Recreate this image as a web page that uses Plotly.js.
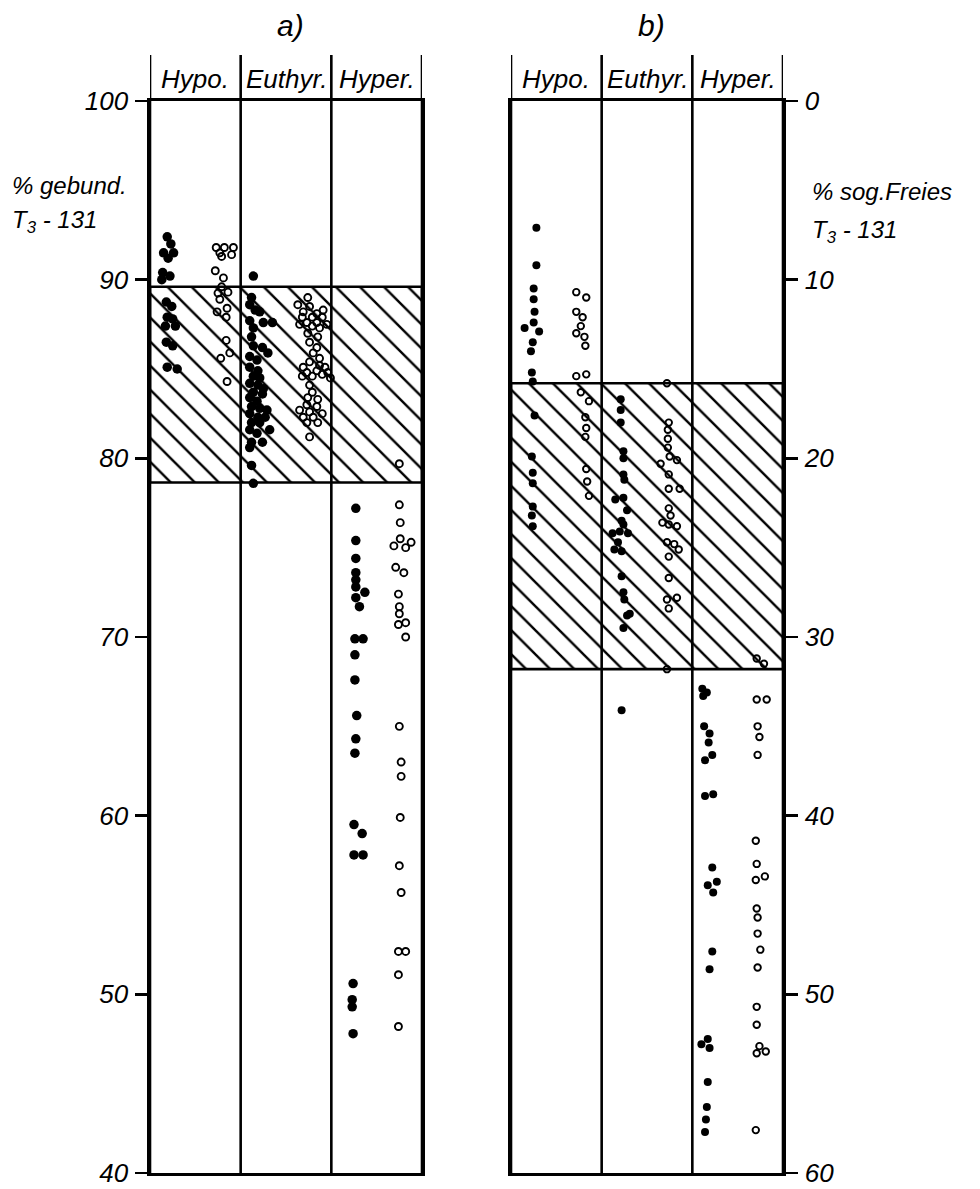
<!DOCTYPE html>
<html>
<head>
<meta charset="utf-8">
<script src="https://cdn.plot.ly/plotly-3.0.1.min.js"></script>
<style>html,body{margin:0;padding:0;background:#fff;}#chart{width:980px;height:1189px;}</style>
</head>
<body>
<div id="chart"></div>
<script>
// ---------------- DATA ----------------
const categories = ['Hypo.', 'Euthyr.', 'Hyper.'];
const tickValsA = [40, 50, 60, 70, 80, 90, 100];
const tickValsB = [0, 10, 20, 30, 40, 50, 60];
const normalBandA = [78.65, 89.6];   // % gebund. T3-131 (hatched normal range)
const normalBandB = [15.8, 31.8];    // % sog. Freies T3-131 (hatched normal range)

// Panel a) – % gebund. T3-131 ; x = position within columns (0..3)
const aHypoFilledX = [0.19,0.23,0.15,0.26,0.20,0.14,0.22,0.13,0.18,0.24,0.19,0.25,0.17,0.28,0.18,0.25,0.19,0.30];
const aHypoFilledY = [92.4,92.0,91.5,91.5,91.2,90.4,90.2,90.0,88.75,88.5,87.9,87.8,87.4,87.4,86.5,86.3,85.1,85.0];
const aHypoOpenX = [0.73,0.82,0.92,0.77,0.90,0.79,0.72,0.81,0.79,0.75,0.86,0.77,0.85,0.74,0.84,0.84,0.88,0.78,0.85];
const aHypoOpenY = [91.8,91.8,91.8,91.5,91.4,91.3,90.5,90.1,89.6,89.25,89.3,88.9,88.4,88.2,87.9,86.6,85.9,85.6,84.3];

const aEuFilledX = [1.14,1.12,1.10,1.16,1.21,1.10,1.25,1.35,1.14,1.12,1.14,1.24,1.30,1.10,1.18,1.10,1.19,1.14,1.21,1.10,1.19,1.25,1.14,1.24,1.10,1.18,1.12,1.21,1.29,1.10,1.19,1.27,1.12,1.21,1.32,1.10,1.18,1.12,1.24,1.10,1.12,1.14];
const aEuFilledY = [90.2,89.0,88.6,88.3,88.2,87.7,87.6,87.6,87.3,86.8,86.3,86.2,85.9,85.7,85.5,85.1,84.9,84.6,84.5,84.2,84.1,83.9,83.7,83.6,83.4,83.2,82.9,82.8,82.7,82.5,82.3,82.3,82.0,82.0,81.6,81.6,81.4,80.9,80.9,80.6,79.6,78.6];
const aEuOpenX = [1.74,1.63,1.76,1.69,1.84,1.91,1.68,1.79,1.90,1.73,1.84,1.95,1.65,1.79,1.87,1.74,1.85,1.76,1.84,1.80,1.87,1.76,1.87,1.69,1.84,1.93,1.73,1.96,1.68,1.79,1.90,1.99,1.76,1.79,1.74,1.85,1.73,1.84,1.65,1.76,1.90,1.69,1.80,1.73,1.85,1.76];
const aEuOpenY = [89.0,88.6,88.5,88.2,88.1,88.3,87.9,87.9,87.9,87.6,87.6,87.5,87.5,87.4,87.3,87.0,86.8,86.5,86.2,85.9,85.6,85.4,85.2,85.1,84.9,85.1,84.8,84.8,84.6,84.6,84.7,84.5,84.1,83.7,83.4,83.3,83.0,82.9,82.7,82.6,82.5,82.3,82.3,82.0,82.0,81.2];

const aHyperFilledX = [2.27,2.27,2.27,2.27,2.27,2.27,2.37,2.27,2.31,2.26,2.35,2.26,2.26,2.28,2.27,2.26,2.25,2.34,2.25,2.35,2.24,2.23,2.23,2.24];
const aHyperFilledY = [77.2,75.4,74.4,73.6,73.2,72.8,72.5,72.2,71.7,69.9,69.9,69.0,67.6,65.6,64.3,63.5,59.5,59.0,57.8,57.8,50.6,49.7,49.3,47.8];
const aHyperOpenX = [2.75,2.75,2.76,2.76,2.88,2.69,2.82,2.71,2.80,2.74,2.75,2.75,2.82,2.74,2.82,2.75,2.77,2.77,2.76,2.75,2.77,2.74,2.82,2.74,2.74];
const aHyperOpenY = [79.7,77.4,76.4,75.5,75.3,75.1,75.0,73.9,73.6,72.4,71.7,71.3,70.8,70.7,70.0,65.0,63.0,62.2,59.9,57.2,55.7,52.4,52.4,51.1,48.2];

// Panel b) – % sog. Freies T3-131
const bHypoFilledX = [0.28,0.28,0.25,0.25,0.26,0.25,0.15,0.31,0.24,0.22,0.23,0.24,0.26,0.23,0.24,0.24,0.24,0.23,0.24];
const bHypoFilledY = [7.1,9.2,10.5,11.1,11.8,12.4,12.7,12.9,13.5,14.0,15.2,15.7,17.6,19.9,20.8,21.4,22.7,23.2,23.8];
const bHypoOpenX = [0.72,0.83,0.72,0.79,0.77,0.72,0.81,0.82,0.72,0.83,0.77,0.86,0.82,0.83,0.82,0.83,0.84,0.86];
const bHypoOpenY = [10.7,11.0,11.8,12.1,12.6,13.0,13.2,13.7,15.4,15.3,16.3,16.8,17.7,18.3,18.8,20.6,21.3,22.1];

const bEuFilledX = [1.21,1.21,1.21,1.24,1.24,1.24,1.25,1.15,1.24,1.28,1.22,1.24,1.12,1.20,1.29,1.18,1.14,1.22,1.22,1.24,1.25,1.28,1.31,1.24,1.22];
const bEuFilledY = [16.7,17.3,18.0,19.6,20.0,20.9,21.2,22.3,22.2,22.9,23.5,23.7,24.2,24.1,24.2,24.7,25.1,25.2,26.6,27.5,27.9,28.8,28.7,29.5,34.1];
const bEuOpenX = [1.72,1.74,1.73,1.73,1.73,1.75,1.65,1.83,1.74,1.74,1.86,1.74,1.76,1.67,1.74,1.83,1.72,1.80,1.85,1.74,1.74,1.72,1.83,1.74,1.72];
const bEuOpenY = [15.8,18.0,18.4,18.9,19.4,19.9,20.3,20.1,20.9,21.7,21.7,22.8,23.2,23.6,23.7,23.8,24.7,24.8,25.1,25.5,26.7,27.9,27.8,28.4,31.8];

const bHyperFilledX = [2.11,2.16,2.12,2.13,2.19,2.18,2.22,2.14,2.14,2.23,2.22,2.17,2.27,2.23,2.22,2.19,2.10,2.17,2.19,2.17,2.16,2.15,2.14];
const bHyperFilledY = [32.9,33.1,33.3,35.0,35.4,35.9,36.6,36.9,38.9,38.8,42.9,43.9,43.7,44.3,47.6,48.6,52.8,52.5,53.0,54.9,56.3,57.0,57.7];
const bHyperOpenX = [2.71,2.79,2.71,2.82,2.72,2.74,2.72,2.70,2.71,2.70,2.80,2.71,2.72,2.72,2.75,2.72,2.71,2.71,2.74,2.81,2.71,2.70];
const bHyperOpenY = [31.2,31.5,33.5,33.5,35.0,35.6,36.6,41.4,42.7,43.6,43.4,45.2,45.7,46.6,47.5,48.5,50.7,51.7,52.9,53.2,53.3,57.6];

// ---------------- STYLE / LAYOUT ----------------
const W = 980, H = 1189;
const FONT = "'Liberation Sans', Arial, sans-serif";
const LW = 2.6;
const fx = p => p / W;
const fy = p => 1 - p / H;

const plotTop = 101, plotBottom = 1173, headTop = 55;
const aLeft = 150, aRight = 422, bLeft = 511, bRight = 783;

function dots(x, y, xa, ya, open, size) {
  return {
    type: 'scatter', mode: 'markers', x: x, y: y, xaxis: xa, yaxis: ya,
    hoverinfo: 'skip', showlegend: false, cliponaxis: false,
    marker: open
      ? {symbol: 'circle-open', size: size, color: '#000', line: {width: 1.9, color: '#000'}}
      : {symbol: 'circle', size: size, color: '#000', line: {width: 0}}
  };
}
function band(rng, xa, ya) {
  return {
    type: 'scatter', mode: 'lines', xaxis: xa, yaxis: ya, hoverinfo: 'skip', showlegend: false,
    x: [0, 3, 3, 0, 0], y: [rng[0], rng[0], rng[1], rng[1], rng[0]],
    fill: 'toself', fillcolor: 'rgba(255,255,255,0)',
    fillpattern: {shape: '\\', size: 17, solidity: 0.14, fgcolor: '#000', bgcolor: '#fff'},
    line: {color: '#000', width: LW}
  };
}

const traces = [
  band(normalBandA, 'x', 'y'),
  band(normalBandB, 'x2', 'y2'),
  dots(aHypoFilledX, aHypoFilledY, 'x', 'y', false, 9.5),
  dots(aHypoOpenX, aHypoOpenY, 'x', 'y', true, 7),
  dots(aEuFilledX, aEuFilledY, 'x', 'y', false, 9.5),
  dots(aEuOpenX, aEuOpenY, 'x', 'y', true, 7),
  dots(aHyperFilledX, aHyperFilledY, 'x', 'y', false, 9.5),
  dots(aHyperOpenX, aHyperOpenY, 'x', 'y', true, 7),
  dots(bHypoFilledX, bHypoFilledY, 'x2', 'y2', false, 8),
  dots(bHypoOpenX, bHypoOpenY, 'x2', 'y2', true, 6.5),
  dots(bEuFilledX, bEuFilledY, 'x2', 'y2', false, 8),
  dots(bEuOpenX, bEuOpenY, 'x2', 'y2', true, 6.5),
  dots(bHyperFilledX, bHyperFilledY, 'x2', 'y2', false, 8),
  dots(bHyperOpenX, bHyperOpenY, 'x2', 'y2', true, 6.5)
];

const yDom = [fy(plotBottom), fy(plotTop)];
const tickFont = {family: FONT, size: 26, color: '#000', style: 'italic'};
const xBase = {range: [0, 3], showticklabels: false, ticks: '', showgrid: false, zeroline: false,
  showline: true, mirror: true, linewidth: LW, linecolor: '#000', fixedrange: true};
const yBase = {showgrid: false, zeroline: false, showline: true, mirror: true, linewidth: LW,
  linecolor: '#000', ticks: 'outside', ticklen: 12, tickwidth: LW, tickcolor: '#000',
  tickfont: tickFont, ticklabelstandoff: 2, fixedrange: true};

const shapes = [];
['x', 'x2'].forEach(xa => {
  [0, 1, 2, 3].forEach(v => shapes.push({type: 'line', xref: xa, yref: 'paper', x0: v, x1: v,
    y0: fy(plotBottom), y1: fy(headTop), line: {color: '#000', width: LW}}));
});

const annotations = [];
const headFont = {family: FONT, size: 26, color: '#000', style: 'italic'};
['x', 'x2'].forEach(xa => {
  categories.forEach((c, i) => annotations.push({xref: xa, yref: 'paper', x: i + 0.5, y: fy(79),
    text: c, showarrow: false, xanchor: 'center', yanchor: 'middle', font: headFont}));
});
const labFont = {family: FONT, size: 24, color: '#000', style: 'italic'};
const titFont = {family: FONT, size: 30, color: '#000', style: 'italic'};
annotations.push(
  {xref: 'paper', yref: 'paper', x: fx(290), y: fy(26), text: 'a)', showarrow: false, xanchor: 'center', yanchor: 'middle', font: titFont},
  {xref: 'paper', yref: 'paper', x: fx(651), y: fy(26), text: 'b)', showarrow: false, xanchor: 'center', yanchor: 'middle', font: titFont},
  {xref: 'paper', yref: 'paper', x: fx(10), y: fy(186), text: '% gebund.', showarrow: false, xanchor: 'left', yanchor: 'middle', font: labFont},
  {xref: 'paper', yref: 'paper', x: fx(10), y: fy(222), text: 'T<sub>3</sub> - 131', showarrow: false, xanchor: 'left', yanchor: 'middle', font: labFont},
  {xref: 'paper', yref: 'paper', x: fx(810), y: fy(192), text: '% sog.Freies', showarrow: false, xanchor: 'left', yanchor: 'middle', font: labFont},
  {xref: 'paper', yref: 'paper', x: fx(810), y: fy(232), text: 'T<sub>3</sub> - 131', showarrow: false, xanchor: 'left', yanchor: 'middle', font: labFont}
);

const layout = {
  width: W, height: H, margin: {l: 0, r: 0, t: 0, b: 0, pad: 0},
  paper_bgcolor: '#fff', plot_bgcolor: 'rgba(0,0,0,0)', showlegend: false,
  xaxis: Object.assign({}, xBase, {domain: [fx(aLeft), fx(aRight)], anchor: 'y'}),
  yaxis: Object.assign({}, yBase, {domain: yDom, range: [40, 100], tickvals: tickValsA, anchor: 'x', side: 'left'}),
  xaxis2: Object.assign({}, xBase, {domain: [fx(bLeft), fx(bRight)], anchor: 'y2'}),
  yaxis2: Object.assign({}, yBase, {domain: yDom, range: [60, 0], tickvals: tickValsB, anchor: 'x2', side: 'right'}),
  shapes: shapes,
  annotations: annotations
};

Plotly.newPlot('chart', traces, layout, {displayModeBar: false, staticPlot: true});
</script>
</body>
</html>
